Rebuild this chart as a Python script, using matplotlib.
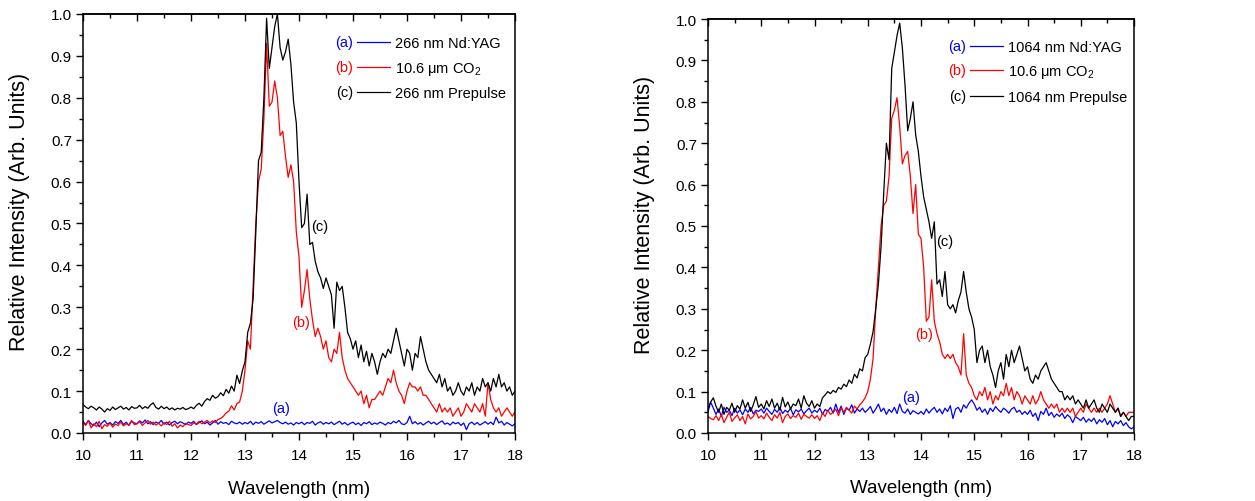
import numpy as np
import matplotlib
matplotlib.use("Agg")
import matplotlib.pyplot as plt
from matplotlib.ticker import MultipleLocator, FormatStrFormatter

plt.rcParams['font.family'] = ['Liberation Sans', 'DejaVu Sans']
plt.rcParams['mathtext.fontset'] = 'custom'
plt.rcParams['mathtext.rm'] = 'Liberation Sans'
plt.rcParams['mathtext.it'] = 'Liberation Sans:italic'
plt.rcParams['mathtext.bf'] = 'Liberation Sans:bold'

# ---------------- data (wavelength grid 10-18 nm, 0.05 nm step) ----------------
wavelength = np.linspace(10.0, 18.0, 161)

# Left panel: 266 nm
left_a = [0.028, 0.020, 0.030, 0.022, 0.018, 0.026, 0.015, 0.024, 0.030, 0.021, 0.025, 0.019, 0.027, 0.023, 0.030, 0.020, 0.026, 0.018, 0.028, 0.024,
          0.022, 0.029, 0.024, 0.031, 0.022, 0.027, 0.020, 0.026, 0.023, 0.030, 0.021, 0.026, 0.019, 0.025, 0.028, 0.022, 0.027, 0.024, 0.020, 0.026,
          0.023, 0.028, 0.020, 0.025, 0.029, 0.022, 0.026, 0.019, 0.024, 0.030, 0.021, 0.027, 0.023, 0.025, 0.020, 0.028, 0.024, 0.022, 0.026, 0.021,
          0.025, 0.022, 0.028, 0.020, 0.026, 0.023, 0.027, 0.021, 0.025, 0.029, 0.024, 0.027, 0.030, 0.025, 0.022, 0.026, 0.021, 0.024, 0.019, 0.025,
          0.022, 0.026, 0.020, 0.025, 0.023, 0.028, 0.019, 0.024, 0.027, 0.021, 0.025, 0.022, 0.026, 0.020, 0.024, 0.028, 0.021, 0.025, 0.019, 0.023,
          0.026, 0.020, 0.024, 0.018, 0.025, 0.022, 0.027, 0.020, 0.024, 0.021, 0.026, 0.023, 0.019, 0.025, 0.022, 0.028, 0.024, 0.030, 0.022, 0.020,
          0.025, 0.040, 0.022, 0.027, 0.021, 0.025, 0.019, 0.024, 0.028, 0.022, 0.026, 0.020, 0.025, 0.029, 0.021, 0.024, 0.019, 0.026, 0.022, 0.025,
          0.018, 0.024, 0.008, 0.022, 0.026, 0.020, 0.025, 0.019, 0.023, 0.027, 0.021, 0.026, 0.020, 0.038, 0.024, 0.028, 0.019, 0.025, 0.021, 0.017,
          0.022]
left_b = [0.025, 0.018, 0.030, 0.012, 0.022, 0.015, 0.028, 0.010, 0.020, 0.016, 0.024, 0.014, 0.021, 0.018, 0.026, 0.017, 0.022, 0.019, 0.030, 0.020,
          0.022, 0.027, 0.018, 0.024, 0.030, 0.021, 0.026, 0.019, 0.023, 0.017, 0.025, 0.020, 0.028, 0.016, 0.022, 0.012, 0.019, 0.015, 0.023, 0.020,
          0.018, 0.024, 0.021, 0.028, 0.022, 0.026, 0.030, 0.024, 0.029, 0.025, 0.032, 0.035, 0.040, 0.048, 0.052, 0.065, 0.055, 0.070, 0.074, 0.100,
          0.150, 0.220, 0.200, 0.350, 0.500, 0.600, 0.630, 0.750, 0.930, 0.780, 0.790, 0.840, 0.800, 0.710, 0.720, 0.660, 0.610, 0.640, 0.600, 0.480,
          0.420, 0.300, 0.340, 0.390, 0.320, 0.270, 0.230, 0.250, 0.230, 0.200, 0.220, 0.180, 0.170, 0.200, 0.190, 0.240, 0.180, 0.150, 0.130, 0.120,
          0.110, 0.100, 0.090, 0.100, 0.070, 0.090, 0.060, 0.080, 0.080, 0.090, 0.100, 0.090, 0.110, 0.130, 0.120, 0.150, 0.120, 0.100, 0.090, 0.070,
          0.100, 0.120, 0.110, 0.110, 0.100, 0.110, 0.090, 0.090, 0.080, 0.070, 0.060, 0.050, 0.070, 0.050, 0.060, 0.050, 0.060, 0.040, 0.050, 0.060,
          0.040, 0.050, 0.070, 0.060, 0.050, 0.070, 0.060, 0.050, 0.070, 0.040, 0.120, 0.080, 0.060, 0.050, 0.060, 0.040, 0.050, 0.060, 0.050, 0.040,
          0.050]
left_c = [0.068, 0.062, 0.058, 0.064, 0.060, 0.055, 0.062, 0.057, 0.050, 0.058, 0.054, 0.062, 0.056, 0.060, 0.064, 0.057, 0.061, 0.055, 0.063, 0.059,
          0.060, 0.066, 0.058, 0.063, 0.059, 0.067, 0.072, 0.061, 0.057, 0.064, 0.058, 0.062, 0.056, 0.060, 0.055, 0.059, 0.057, 0.061, 0.056, 0.058,
          0.062, 0.058, 0.066, 0.071, 0.064, 0.075, 0.082, 0.078, 0.090, 0.083, 0.087, 0.096, 0.089, 0.104, 0.095, 0.112, 0.100, 0.138, 0.118, 0.148,
          0.170, 0.240, 0.262, 0.320, 0.480, 0.650, 0.670, 0.800, 0.990, 0.870, 0.920, 0.970, 1.000, 0.920, 0.890, 0.910, 0.940, 0.880, 0.790, 0.740,
          0.600, 0.490, 0.500, 0.570, 0.450, 0.455, 0.410, 0.385, 0.370, 0.345, 0.370, 0.350, 0.330, 0.250, 0.360, 0.340, 0.350, 0.300, 0.240, 0.225,
          0.200, 0.220, 0.180, 0.210, 0.170, 0.195, 0.160, 0.190, 0.170, 0.140, 0.170, 0.190, 0.180, 0.200, 0.190, 0.220, 0.250, 0.220, 0.190, 0.160,
          0.200, 0.190, 0.150, 0.190, 0.180, 0.230, 0.200, 0.170, 0.150, 0.140, 0.130, 0.120, 0.140, 0.110, 0.130, 0.100, 0.110, 0.090, 0.100, 0.120,
          0.100, 0.090, 0.110, 0.100, 0.120, 0.090, 0.110, 0.100, 0.130, 0.110, 0.120, 0.100, 0.130, 0.110, 0.140, 0.110, 0.120, 0.100, 0.110, 0.090,
          0.100]

# Right panel: 1064 nm
right_a = [0.050, 0.075, 0.060, 0.045, 0.058, 0.040, 0.062, 0.050, 0.055, 0.042, 0.060, 0.048, 0.056, 0.044, 0.058, 0.050, 0.062, 0.046, 0.055, 0.052,
           0.058, 0.048, 0.060, 0.052, 0.045, 0.057, 0.050, 0.062, 0.047, 0.055, 0.050, 0.060, 0.044, 0.056, 0.051, 0.058, 0.046, 0.054, 0.060, 0.048,
           0.055, 0.050, 0.060, 0.045, 0.057, 0.052, 0.062, 0.048, 0.070, 0.050, 0.065, 0.045, 0.060, 0.055, 0.068, 0.048, 0.058, 0.052, 0.060, 0.050,
           0.056, 0.064, 0.048, 0.058, 0.070, 0.052, 0.060, 0.045, 0.057, 0.050, 0.062, 0.047, 0.070, 0.052, 0.048, 0.058, 0.045, 0.054, 0.050, 0.046,
           0.052, 0.045, 0.058, 0.048, 0.056, 0.062, 0.050, 0.058, 0.046, 0.060, 0.052, 0.066, 0.035, 0.058, 0.062, 0.050, 0.068, 0.060, 0.072, 0.080,
           0.070, 0.055, 0.062, 0.050, 0.058, 0.045, 0.060, 0.052, 0.064, 0.056, 0.050, 0.060, 0.055, 0.048, 0.058, 0.062, 0.050, 0.055, 0.045, 0.052,
           0.045, 0.055, 0.040, 0.048, 0.030, 0.052, 0.045, 0.060, 0.042, 0.050, 0.038, 0.046, 0.040, 0.048, 0.035, 0.044, 0.038, 0.025, 0.040, 0.035,
           0.030, 0.038, 0.026, 0.034, 0.028, 0.036, 0.022, 0.032, 0.026, 0.035, 0.020, 0.030, 0.015, 0.028, 0.022, 0.030, 0.018, 0.025, 0.015, 0.010,
           0.015]
right_b = [0.040, 0.035, 0.032, 0.042, 0.030, 0.045, 0.025, 0.038, 0.050, 0.028, 0.036, 0.044, 0.030, 0.040, 0.022, 0.046, 0.034, 0.040, 0.052, 0.036,
           0.042, 0.034, 0.048, 0.038, 0.030, 0.044, 0.036, 0.050, 0.025, 0.040, 0.046, 0.035, 0.042, 0.038, 0.048, 0.033, 0.045, 0.040, 0.036, 0.044,
           0.035, 0.042, 0.030, 0.048, 0.040, 0.055, 0.045, 0.050, 0.058, 0.042, 0.060, 0.050, 0.062, 0.055, 0.048, 0.065, 0.058, 0.068, 0.075, 0.085,
           0.100, 0.130, 0.180, 0.300, 0.400, 0.500, 0.550, 0.560, 0.620, 0.760, 0.780, 0.810, 0.740, 0.650, 0.670, 0.680, 0.620, 0.530, 0.600, 0.480,
           0.470, 0.400, 0.270, 0.280, 0.370, 0.270, 0.240, 0.220, 0.190, 0.180, 0.190, 0.180, 0.190, 0.170, 0.160, 0.140, 0.240, 0.140, 0.120, 0.110,
           0.090, 0.080, 0.100, 0.090, 0.110, 0.080, 0.100, 0.070, 0.090, 0.080, 0.100, 0.090, 0.120, 0.090, 0.110, 0.080, 0.100, 0.090, 0.070, 0.090,
           0.080, 0.070, 0.090, 0.070, 0.080, 0.100, 0.080, 0.070, 0.060, 0.070, 0.060, 0.070, 0.050, 0.060, 0.050, 0.060, 0.050, 0.060, 0.040, 0.050,
           0.060, 0.050, 0.070, 0.060, 0.050, 0.060, 0.050, 0.060, 0.050, 0.060, 0.070, 0.090, 0.070, 0.050, 0.060, 0.040, 0.050, 0.040, 0.050, 0.050,
           0.050]
right_c = [0.060, 0.075, 0.085, 0.065, 0.050, 0.070, 0.045, 0.062, 0.055, 0.072, 0.050, 0.066, 0.058, 0.080, 0.060, 0.074, 0.052, 0.068, 0.088, 0.062,
           0.070, 0.058, 0.078, 0.064, 0.082, 0.060, 0.072, 0.055, 0.086, 0.063, 0.075, 0.058, 0.070, 0.066, 0.082, 0.060, 0.090, 0.072, 0.064, 0.078,
           0.060, 0.070, 0.064, 0.085, 0.092, 0.100, 0.095, 0.103, 0.098, 0.110, 0.106, 0.118, 0.112, 0.128, 0.120, 0.142, 0.133, 0.155, 0.150, 0.182,
           0.190, 0.215, 0.245, 0.300, 0.360, 0.450, 0.580, 0.700, 0.660, 0.880, 0.920, 0.960, 0.990, 0.930, 0.840, 0.730, 0.760, 0.800, 0.720, 0.680,
           0.620, 0.570, 0.540, 0.510, 0.470, 0.510, 0.360, 0.370, 0.330, 0.390, 0.310, 0.300, 0.310, 0.290, 0.320, 0.340, 0.390, 0.340, 0.300, 0.280,
           0.250, 0.170, 0.200, 0.210, 0.170, 0.200, 0.160, 0.140, 0.110, 0.150, 0.170, 0.130, 0.190, 0.160, 0.200, 0.170, 0.190, 0.210, 0.180, 0.150,
           0.160, 0.130, 0.120, 0.140, 0.130, 0.150, 0.160, 0.170, 0.150, 0.130, 0.120, 0.110, 0.100, 0.100, 0.080, 0.090, 0.080, 0.090, 0.070, 0.080,
           0.070, 0.060, 0.080, 0.060, 0.070, 0.080, 0.060, 0.050, 0.070, 0.060, 0.050, 0.070, 0.060, 0.050, 0.060, 0.040, 0.050, 0.040, 0.030, 0.040,
           0.040]

left_labels = ['266 nm Nd:YAG', r'10.6 μm CO$_2$', '266 nm Prepulse']
right_labels = ['1064 nm Nd:YAG', r'10.6 μm CO$_2$', '1064 nm Prepulse']
tags = ['(a)', '(b)', '(c)']
colors = ['#0000ff', '#ff0000', '#000000']

# curve annotation positions (x in nm, y in intensity)
left_tag_pos = [(13.67, 0.06), (14.04, 0.265), (14.39, 0.494)]
right_tag_pos = [(13.81, 0.087), (14.06, 0.239), (14.45, 0.463)]

# ---------------- figure ----------------
fig = plt.figure(figsize=(12.55, 5.02), dpi=100)
ax1 = fig.add_axes([83 / 1255, 1 - 434 / 502, 432 / 1255, 419 / 502])
ax2 = fig.add_axes([708 / 1255, 1 - 434 / 502, 426 / 1255, 414 / 502])

FS_TICK = 11
FS_LEG = 10.5


def style_axes(ax):
    ax.set_xlim(10, 18)
    ax.set_ylim(0, 1.0)
    ax.xaxis.set_major_locator(MultipleLocator(1))
    ax.xaxis.set_minor_locator(MultipleLocator(0.5))
    ax.yaxis.set_major_locator(MultipleLocator(0.1))
    ax.yaxis.set_minor_locator(MultipleLocator(0.05))
    ax.yaxis.set_major_formatter(FormatStrFormatter('%.1f'))
    ax.tick_params(axis='both', which='major', direction='out', length=5, width=1.0,
                   labelsize=FS_TICK, top=False, right=False)
    ax.tick_params(axis='both', which='minor', direction='out', length=3, width=1.0,
                   top=False, right=False)
    ax.tick_params(axis='x', which='major', pad=6)
    ax.tick_params(axis='y', which='major', pad=3)
    for s in ax.spines.values():
        s.set_linewidth(1.1)
    sec = ax.secondary_xaxis('top')
    sec.xaxis.set_major_locator(MultipleLocator(1))
    sec.xaxis.set_minor_locator(MultipleLocator(0.5))
    sec.tick_params(axis='x', which='major', direction='in', length=5, width=1.0, labeltop=False)
    sec.tick_params(axis='x', which='minor', direction='in', length=3, width=1.0)
    sec.spines['top'].set_linewidth(1.1)
    ax.set_xlabel('Wavelength (nm)', fontsize=13.5)
    ax.set_ylabel('Relative Intensity (Arb. Units)', fontsize=15.5)


def draw_panel(ax, series, labels, tag_pos, leg_anchor):
    lines = []
    for y, c in zip(series, colors):
        ln, = ax.plot(wavelength, y, color=c, lw=0.9)
        lines.append(ln)
    style_axes(ax)
    leg = ax.legend(lines, labels, loc='upper left', bbox_to_anchor=leg_anchor,
                    frameon=False, fontsize=FS_LEG, handlelength=2.25, handletextpad=0.35,
                    borderpad=0, borderaxespad=0, labelspacing=0.65)
    for (tx, ty), t, c in zip(tag_pos, tags, colors):
        ax.text(tx, ty, t, color=c, fontsize=FS_LEG, ha='center', va='center')
    return leg


leg1 = draw_panel(ax1, [left_a, left_b, left_c], left_labels, left_tag_pos, (0.634, 0.947))
leg2 = draw_panel(ax2, [right_a, right_b, right_c], right_labels, right_tag_pos, (0.615, 0.950))

ax1.xaxis.set_label_coords(0.5, -0.112)
ax2.xaxis.set_label_coords(0.5, -0.112)
ax1.yaxis.set_label_coords(-0.122, 0.53)
ax2.yaxis.set_label_coords(-0.124, 0.53)

# prefix tags in front of the legend handles
fig.canvas.draw()
renderer = fig.canvas.get_renderer()
for ax, leg in [(ax1, leg1), (ax2, leg2)]:
    for hl, t, c in zip(leg.get_lines(), tags, colors):
        bb = hl.get_window_extent(renderer)
        px, py = bb.x0 - 4, (bb.y0 + bb.y1) / 2
        axp = ax.transAxes.inverted().transform((px, py))
        ax.text(axp[0], axp[1], t, color=c, fontsize=FS_LEG, ha='right', va='center',
                transform=ax.transAxes)

fig.savefig('out.png', dpi=100)
